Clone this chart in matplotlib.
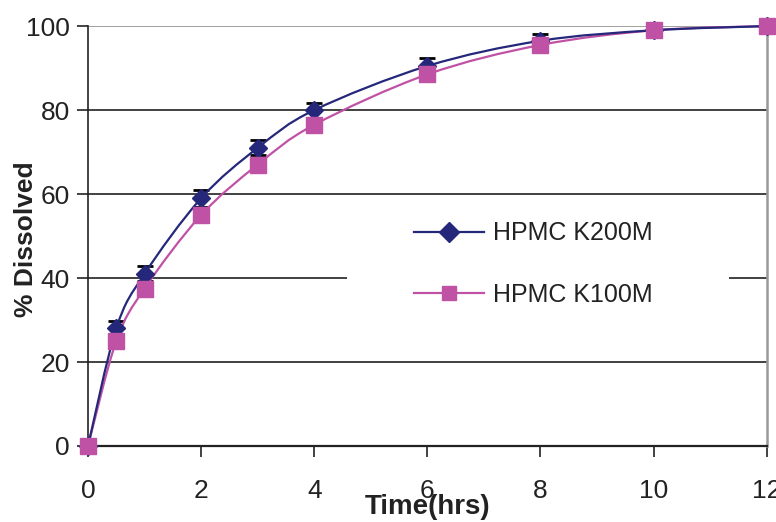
import numpy as np
import matplotlib
matplotlib.use('Agg')
import matplotlib.pyplot as plt
from matplotlib.path import Path
from matplotlib.patches import PathPatch, Rectangle

plt.rcParams['font.family'] = ['Liberation Sans', 'DejaVu Sans']

time_hrs = [0, 0.5, 1, 2, 3, 4, 6, 8, 10, 12]
k200m = [0, 28, 41, 59, 71, 80, 90.5, 96.5, 99, 100]
k200m_err = [0, 1.8, 1.8, 2, 1.8, 1.8, 2, 1.5, 1, 0.8]
k100m = [0, 25, 37.5, 55, 67, 76.5, 88.5, 95.5, 99, 100]
k100m_err = [0, 1.5, 1.5, 1.5, 1.5, 1.5, 1.5, 1.5, 1, 1]

c200 = '#25287A'
c100 = '#C052A6'


def smooth_path(x, y):
    # excel-like smoothed line, bezier segments through the data points
    pts = np.column_stack([x, y])
    n = len(pts)
    verts = [pts[0]]
    codes = [Path.MOVETO]
    for i in range(n - 1):
        p0 = pts[i - 1] if i > 0 else pts[i]
        p1 = pts[i]
        p2 = pts[i + 1]
        p3 = pts[i + 2] if i + 2 < n else pts[i + 1]
        verts += [p1 + (p2 - p0) / 6, p2 - (p3 - p1) / 6, p2]
        codes += [Path.CURVE4] * 3
    return Path(verts, codes)


fig = plt.figure(figsize=(7.76, 5.22), dpi=100)
ax = fig.add_axes([0.1134, 0.1456, 0.8746, 0.8044])

for ys, err, col in [(k100m, k100m_err, c100), (k200m, k200m_err, c200)]:
    ax.add_patch(PathPatch(smooth_path(time_hrs, ys), fill=False, edgecolor=col, lw=1.6,
                           zorder=3, clip_on=False))
    ax.errorbar(time_hrs, ys, yerr=err, fmt='none', ecolor='black', elinewidth=1.2,
                capsize=6, capthick=2, zorder=2, clip_on=False)

ax.plot(time_hrs, k200m, ls='none', marker='D', ms=9.5, color=c200, zorder=4, clip_on=False)
ax.plot(time_hrs, k100m, ls='none', marker='s', ms=12, color=c100, zorder=5, clip_on=False)

# white box behind the legend (breaks the 40 gridline like the original)
ax.add_patch(Rectangle((0.381, 0.30), 0.564, 0.28, transform=ax.transAxes,
                       facecolor='white', edgecolor='none', zorder=1))

h1, = ax.plot([], [], color=c200, lw=1.6, marker='D', ms=10, label='HPMC K200M')
h2, = ax.plot([], [], color=c100, lw=1.6, marker='s', ms=10, label='HPMC K100M')
leg = ax.legend(handles=[h1, h2], loc='center left', bbox_to_anchor=(0.48, 0.433),
                frameon=False, fontsize=18, handlelength=2.8, handletextpad=0.35,
                labelspacing=1.5, borderpad=0, borderaxespad=0)
leg.set_zorder(6)
for t in leg.get_texts():
    t.set_color('#222222')

ax.set_xlim(0, 12)
ax.set_ylim(0, 100)
ax.set_xticks([0, 2, 4, 6, 8, 10, 12])
ax.set_yticks([0, 20, 40, 60, 80, 100])
ax.tick_params(direction='out', length=8, width=1.2, labelsize=19, colors='#222222')
ax.tick_params(axis='x', pad=16)
ax.tick_params(axis='y', pad=5)

ax.yaxis.grid(True, color='#333333', lw=1.3)
ax.xaxis.grid(False)
ax.set_axisbelow(True)
ax.yaxis.get_gridlines()[-1].set_color('#999999')

ax.spines['top'].set_visible(False)
ax.spines['right'].set_color('#999999')
ax.spines['right'].set_linewidth(1.8)
ax.spines['left'].set_color('#222222')
ax.spines['bottom'].set_color('#222222')
ax.spines['left'].set_linewidth(1.2)
ax.spines['bottom'].set_linewidth(1.6)

ax.set_xlabel('Time(hrs)', fontsize=20, fontweight='bold', labelpad=-7, color='#222222')
ax.set_ylabel('% Dissolved', fontsize=19, fontweight='bold', color='#222222')
ax.yaxis.set_label_coords(-0.074, 0.493)

fig.savefig('out.png', dpi=100)
